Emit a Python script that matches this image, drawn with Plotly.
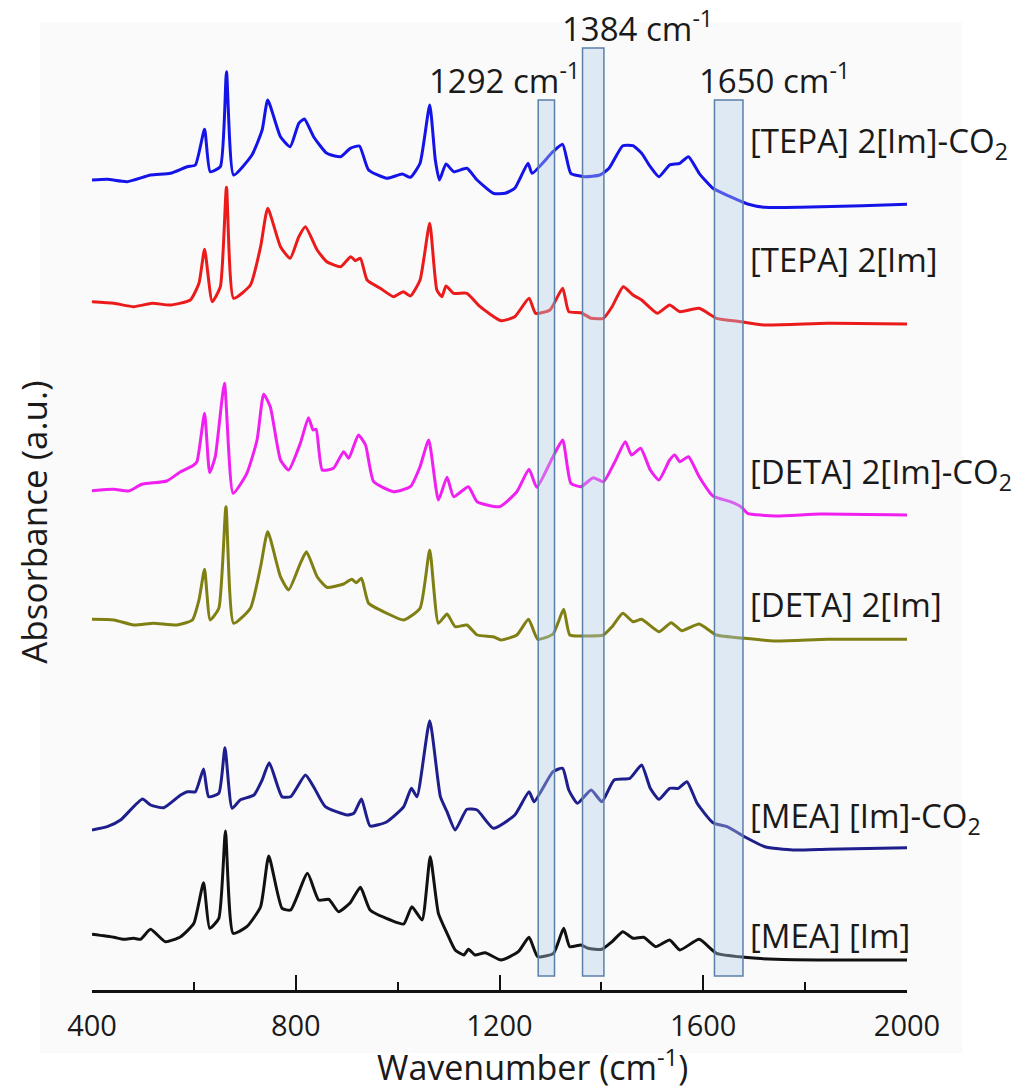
import plotly.graph_objects as go

# ---- FTIR spectra (stacked, arbitrary absorbance units) ----
tepa_co2_wn = [400, 430, 469, 515, 554, 587, 603, 621, 632, 652, 664, 678, 714, 734, 745, 770, 789, 806, 817, 835,
               861, 888, 907, 925, 943, 979, 1009, 1025, 1044, 1063, 1074, 1082, 1095, 1110, 1136, 1156, 1188, 1211,
               1230, 1256, 1264, 1305, 1324, 1340, 1367, 1397, 1415, 1442, 1462, 1479, 1496, 1513, 1534, 1554, 1571,
               1592, 1619, 1653, 1687, 1721, 1790, 1912, 2000]
tepa_co2_abs = [8.10, 8.107, 8.083, 8.15, 8.167, 8.233, 8.25, 8.607, 8.183, 8.233, 9.183, 8.15, 8.35, 8.60, 8.90, 8.533,
                8.433, 8.667, 8.71, 8.533, 8.367, 8.333, 8.417, 8.44, 8.20, 8.117, 8.16, 8.127, 8.267, 8.85, 8.30,
                8.10, 8.26, 8.183, 8.217, 8.10, 7.967, 7.967, 8.017, 8.267, 8.167, 8.383, 8.457, 8.167, 8.133, 8.15,
                8.217, 8.443, 8.443, 8.367, 8.233, 8.133, 8.25, 8.267, 8.333, 8.167, 8.017, 7.933, 7.86, 7.827,
                7.827, 7.843, 7.857]

tepa_wn = [400, 443, 482, 518, 554, 593, 610, 621, 636, 652, 664, 678, 711, 731, 745, 770, 789, 806, 819, 842, 861,
           888, 908, 917, 927, 940, 966, 992, 1011, 1025, 1044, 1063, 1077, 1087, 1095, 1110, 1136, 1162, 1203, 1230,
           1258, 1271, 1299, 1324, 1336, 1360, 1380, 1404, 1421, 1443, 1462, 1479, 1510, 1534, 1554, 1592, 1626,
           1674, 1721, 1844, 2000]
tepa_abs = [6.883, 6.867, 6.833, 6.867, 6.85, 6.90, 7.067, 7.407, 6.883, 7.033, 8.027, 6.917, 7.05, 7.433, 7.817,
            7.433, 7.317, 7.533, 7.633, 7.40, 7.283, 7.233, 7.333, 7.293, 7.317, 7.10, 7.017, 6.933, 6.983, 6.94,
            7.10, 7.667, 7.00, 6.933, 7.04, 6.967, 6.967, 6.833, 6.693, 6.733, 6.917, 6.767, 6.80, 7.017, 6.783,
            6.773, 6.717, 6.717, 6.833, 7.033, 6.95, 6.90, 6.767, 6.85, 6.783, 6.817, 6.717, 6.683, 6.65, 6.667,
            6.66]

deta_co2_wn = [400, 443, 472, 498, 547, 574, 597, 606, 621, 631, 642, 660, 677, 704, 724, 737, 750, 770, 786, 809,
               825, 834, 840, 852, 874, 894, 904, 923, 937, 953, 992, 1025, 1044, 1061, 1080, 1097, 1110, 1139, 1156,
               1200, 1234, 1258, 1273, 1305, 1324, 1340, 1360, 1384, 1404, 1425, 1447, 1459, 1477, 1496, 1513, 1534,
               1544, 1554, 1571, 1592, 1619, 1653, 1674, 1687, 1742, 1830, 2000]
deta_co2_abs = [4.993, 5.007, 4.99, 5.057, 5.09, 5.183, 5.24, 5.283, 5.767, 5.173, 5.333, 6.067, 4.967, 5.167, 5.50,
                5.957, 5.833, 5.30, 5.20, 5.467, 5.723, 5.60, 5.607, 5.20, 5.217, 5.383, 5.317, 5.55, 5.45, 5.083,
                4.983, 5.033, 5.233, 5.50, 4.90, 5.127, 4.933, 5.033, 4.883, 4.833, 4.983, 5.207, 5.027, 5.333, 5.50,
                5.067, 5.033, 5.123, 5.083, 5.267, 5.483, 5.35, 5.417, 5.20, 5.10, 5.30, 5.35, 5.283, 5.333, 5.133,
                4.94, 4.883, 4.833, 4.767, 4.74, 4.76, 4.75]

deta_wn = [400, 443, 482, 521, 567, 597, 610, 621, 632, 649, 663, 678, 711, 731, 745, 770, 786, 809, 821, 842, 861,
           894, 910, 919, 929, 943, 979, 1012, 1044, 1063, 1080, 1097, 1113, 1136, 1156, 1188, 1203, 1234, 1257, 1275,
           1305, 1326, 1338, 1367, 1404, 1421, 1442, 1462, 1479, 1513, 1537, 1558, 1592, 1626, 1681, 1742, 1844, 2000]
deta_abs = [3.707, 3.70, 3.65, 3.667, 3.65, 3.70, 3.90, 4.207, 3.70, 3.817, 4.833, 3.667, 3.817, 4.233, 4.583, 4.133,
            4.00, 4.267, 4.383, 4.133, 4.027, 4.06, 4.107, 4.073, 4.117, 3.867, 3.767, 3.70, 3.817, 4.40, 3.667, 3.76,
            3.633, 3.65, 3.55, 3.533, 3.50, 3.55, 3.707, 3.507, 3.56, 3.807, 3.55, 3.54, 3.55, 3.633, 3.767, 3.683,
            3.707, 3.583, 3.673, 3.593, 3.66, 3.55, 3.517, 3.49, 3.507, 3.507]

mea_co2_wn = [400, 430, 456, 499, 515, 541, 574, 587, 603, 619, 629, 649, 661, 675, 691, 718, 734, 748, 773, 790,
              819, 835, 858, 901, 914, 929, 946, 979, 1012, 1027, 1038, 1063, 1084, 1097, 1113, 1136, 1156, 1188,
              1230, 1258, 1268, 1305, 1324, 1336, 1353, 1380, 1401, 1425, 1456, 1479, 1496, 1513, 1534, 1551, 1568,
              1588, 1619, 1647, 1681, 1721, 1776, 1844, 2000]
mea_co2_abs = [1.60, 1.633, 1.70, 1.91, 1.85, 1.823, 1.95, 1.983, 1.983, 2.21, 1.933, 1.967, 2.423, 1.817, 1.90, 1.95,
               2.10, 2.273, 1.933, 1.933, 2.15, 2.033, 1.833, 1.75, 1.767, 1.91, 1.64, 1.683, 1.833, 2.017, 1.933,
               2.693, 1.933, 1.783, 1.60, 1.807, 1.80, 1.617, 1.75, 1.983, 1.883, 2.183, 2.217, 2.00, 1.867, 2.00,
               1.883, 2.10, 2.117, 2.25, 2.017, 1.907, 2.017, 2.017, 2.083, 1.867, 1.673, 1.633, 1.533, 1.433, 1.40,
               1.407, 1.423]

mea_wn = [400, 443, 462, 482, 495, 515, 544, 574, 600, 619, 631, 649, 662, 677, 704, 731, 747, 773, 790, 823, 845,
          865, 884, 907, 927, 946, 986, 1012, 1028, 1048, 1064, 1080, 1097, 1113, 1130, 1139, 1152, 1172, 1203, 1237,
          1258, 1275, 1306, 1326, 1338, 1360, 1374, 1401, 1421, 1442, 1462, 1483, 1507, 1534, 1554, 1592, 1626, 1681,
          1742, 1844, 2000]
mea_abs = [0.557, 0.527, 0.507, 0.517, 0.507, 0.607, 0.483, 0.533, 0.667, 1.073, 0.617, 0.717, 1.59, 0.567, 0.633,
           0.833, 1.34, 0.817, 0.80, 1.167, 0.90, 0.907, 0.783, 0.873, 1.027, 0.80, 0.70, 0.66, 0.833, 0.70, 1.333,
           0.767, 0.567, 0.40, 0.35, 0.407, 0.35, 0.373, 0.30, 0.383, 0.527, 0.333, 0.367, 0.617, 0.433, 0.45, 0.417,
           0.407, 0.483, 0.583, 0.517, 0.527, 0.433, 0.50, 0.40, 0.507, 0.367, 0.327, 0.307, 0.30, 0.30]

series_names = ["[TEPA] 2[Im]-CO<sub>2</sub>", "[TEPA] 2[Im]",
                "[DETA] 2[Im]-CO<sub>2</sub>", "[DETA] 2[Im]",
                "[MEA] [Im]-CO<sub>2</sub>", "[MEA] [Im]"]
series_wn = [tepa_co2_wn, tepa_wn, deta_co2_wn, deta_wn, mea_co2_wn, mea_wn]
series_abs = [tepa_co2_abs, tepa_abs, deta_co2_abs, deta_abs, mea_co2_abs, mea_abs]
series_colors = ["#1414e8", "#ec1b1b", "#f020f0", "#7f7f14", "#1e1e8c", "#111111"]
label_y = [8.48, 7.31, 5.17, 3.86, 1.73, 0.55]

# highlighted bands (cm-1) and their widths
band_centers = [1292, 1384, 1650]
band_widths = [32, 42, 56]
band_tops = [8.90, 9.42, 8.90]
band_bottom = 0.14

FONT = "Open Sans"
TEXT = "#1a1a1a"

fig = go.Figure()

for wn, ab, col, name in zip(series_wn, series_abs, series_colors, series_names):
    fig.add_trace(go.Scatter(
        x=wn, y=ab, mode="lines", name=name,
        line=dict(color=col, width=3, shape="spline", smoothing=0.5),
        showlegend=False, hoverinfo="skip",
    ))

shapes = [
    # light panel behind the chart
    dict(type="rect", xref="paper", yref="paper",
         x0=-0.064, x1=1.068, y0=-0.065, y1=0.998,
         fillcolor="#fafafa", line=dict(width=0), layer="below"),
]
for c, w, top in zip(band_centers, band_widths, band_tops):
    shapes.append(dict(
        type="rect", xref="x", yref="y",
        x0=c - w / 2, x1=c + w / 2, y0=band_bottom, y1=top,
        fillcolor="rgba(180,206,234,0.38)",
        line=dict(color="#5b80a8", width=1.5), layer="above",
    ))

annotations = []
for name, y in zip(series_names, label_y):
    annotations.append(dict(
        x=1688, y=y, xref="x", yref="y", text=name, showarrow=False,
        xanchor="left", yanchor="middle",
        font=dict(family=FONT, size=33, color=TEXT),
    ))

band_label_pos = [(1058, 9.12), (1319, 9.64), (1588, 9.12)]
for c, (x, y) in zip(band_centers, band_label_pos):
    annotations.append(dict(
        x=x, y=y, xref="x", yref="y", text=f"{c} cm<sup>-1</sup>", showarrow=False,
        xanchor="left", yanchor="middle",
        font=dict(family=FONT, size=33, color=TEXT),
    ))

# axis titles
annotations.append(dict(
    x=0.54, y=-0.078, xref="paper", yref="paper", text="Wavenumber (cm<sup>-1</sup>)",
    showarrow=False, xanchor="center", yanchor="middle",
    font=dict(family=FONT, size=34, color=TEXT),
))
annotations.append(dict(
    x=-0.072, y=0.482, xref="paper", yref="paper", text="Absorbance (a.u.)",
    showarrow=False, xanchor="center", yanchor="middle", textangle=-90,
    font=dict(family=FONT, size=35, color=TEXT),
))

fig.update_layout(
    width=1025, height=1091,
    margin=dict(l=92, r=118, t=20, b=101, autoexpand=False),
    paper_bgcolor="white", plot_bgcolor="rgba(0,0,0,0)",
    shapes=shapes, annotations=annotations,
    xaxis=dict(
        range=[400, 2000], tick0=400, dtick=400,
        ticks="inside", ticklen=15, tickwidth=2, tickcolor="#111",
        showline=True, linecolor="#111", linewidth=2.5,
        showgrid=False, zeroline=False,
        tickfont=dict(family=FONT, size=29, color=TEXT),
        ticklabelstandoff=8,
        minor=dict(dtick=200, tick0=400, ticks="inside", ticklen=8, tickwidth=2, tickcolor="#111", showgrid=False),
    ),
    yaxis=dict(
        range=[0, 9.7], showticklabels=False, ticks="", showline=False,
        showgrid=False, zeroline=False,
    ),
)

fig.write_html("out.html")
